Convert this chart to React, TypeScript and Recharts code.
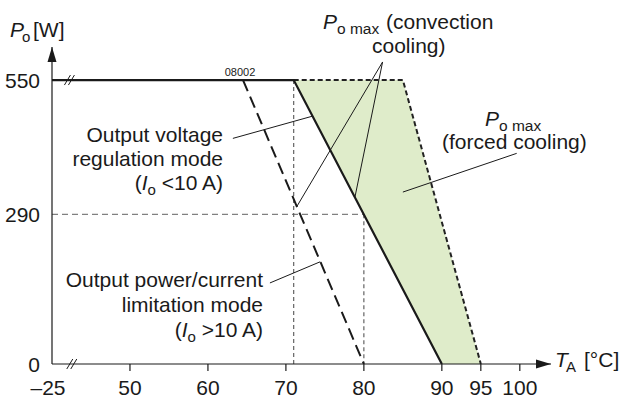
import React from 'react';
import {
  ComposedChart,
  Line,
  Area,
  XAxis,
  YAxis,
  ReferenceLine,
  ReferenceDot,
  Customized,
} from 'recharts';

// ---- data ----
const xTicks = [40, 50, 60, 70, 80, 90, 95, 100];
const xTickLabels: Record<number, string> = {
  40: '–25', 50: '50', 60: '60', 70: '70', 80: '80', 90: '90', 95: '95', 100: '100',
};
const yTicks = [0, 290, 550];

const convection = [
  { x: 40, y: 550 },
  { x: 71, y: 550 },
  { x: 90, y: 0 },
];
const limitation = [
  { x: 64.5, y: 550 },
  { x: 80, y: 0 },
];
const forced = [
  { x: 71, y: 550 },
  { x: 85, y: 550 },
  { x: 95, y: 0 },
];
const bandX = [71, 85, 90, 95];

const guideH = [{ x: 40, y: 290 }, { x: 80, y: 290 }];
const guideV71 = [{ x: 71, y: 550 }, { x: 71, y: 0 }];
const guideV80 = [{ x: 80, y: 290 }, { x: 80, y: 0 }];

const leaders = [
  [{ x: 63.2, y: 437 }, { x: 73.4, y: 480 }],
  [{ x: 82.4, y: 585 }, { x: 71.4, y: 305 }],
  [{ x: 82.4, y: 585 }, { x: 78.85, y: 323 }],
  [{ x: 99.6, y: 408 }, { x: 85.0, y: 333 }],
  [{ x: 67.95, y: 157 }, { x: 74.4, y: 198 }],
];

function interp(series: { x: number; y: number }[], x: number): number {
  if (x <= series[0].x) return series[0].y;
  for (let i = 1; i < series.length; i++) {
    const a = series[i - 1], b = series[i];
    if (x <= b.x) return a.y + ((b.y - a.y) * (x - a.x)) / (b.x - a.x);
  }
  return series[series.length - 1].y;
}
const band = bandX.map((x) => ({ x, range: [interp(convection, x), interp(forced, x)] }));

const FONT = '"Liberation Sans", Arial, Helvetica, sans-serif';
const INK = '#1a1a1a';

const XTick = (props: any) => {
  const { x, y, payload } = props;
  const v = payload.value as number;
  return (
    <g>
      {v !== 40 && <line x1={x} y1={y} x2={x} y2={y + 7} stroke={INK} strokeWidth={1.2} />}
      <text x={x + (v === 40 ? -4 : 0)} y={y + 31} textAnchor="middle" fontSize={21} fill={INK} fontFamily={FONT}>
        {xTickLabels[v]}
      </text>
    </g>
  );
};

const YTick = (props: any) => {
  const { x, y, payload } = props;
  return (
    <text x={x - 12} y={y + 7.5} textAnchor="end" fontSize={21} fill={INK} fontFamily={FONT}>
      {payload.value}
    </text>
  );
};

const BreakMark = (props: any) => {
  const { cx, cy } = props;
  return (
    <g stroke={INK} strokeWidth={1}>
      <line x1={cx - 5.5} y1={cy + 5} x2={cx + 0.5} y2={cy - 5} />
      <line x1={cx - 1.5} y1={cy + 5} x2={cx + 4.5} y2={cy - 5} />
    </g>
  );
};

const ArrowUp = (props: any) => {
  const { cx, cy } = props;
  return <polygon points={`${cx},${cy} ${cx - 4.5},${cy + 15} ${cx + 4.5},${cy + 15}`} fill={INK} />;
};
const ArrowRight = (props: any) => {
  const { cx, cy } = props;
  return <polygon points={`${cx},${cy} ${cx - 15},${cy - 4.5} ${cx - 15},${cy + 4.5}`} fill={INK} />;
};

const Annotations = () => (
  <g fontFamily={FONT} fill={INK}>
    <text x={10} y={37} fontSize={21}>
      <tspan fontStyle="italic">P</tspan>
      <tspan x={22} dy={5} fontSize={15}>o</tspan>
      <tspan x={33} dy={-5}>[W]</tspan>
    </text>
    <text x={555} y={367} fontSize={21}>
      <tspan fontStyle="italic">T</tspan>
      <tspan x={566} dy={5} fontSize={15}>A</tspan>
      <tspan x={584} dy={-5}>[°C]</tspan>
    </text>
    <text x={240} y={76} fontSize={11} textAnchor="middle">08002</text>

    <text x={323} y={28.5} fontSize={21}>
      <tspan fontStyle="italic">P</tspan>
      <tspan x={337} dy={5} fontSize={15.5}>o max</tspan>
      <tspan x={386} dy={-5}>(convection</tspan>
    </text>
    <text x={372} y={53} fontSize={21}>cooling)</text>

    <text x={485} y={126} fontSize={21}>
      <tspan fontStyle="italic">P</tspan>
      <tspan x={499} dy={4.5} fontSize={15.5}>o max</tspan>
    </text>
    <text x={442} y={149} fontSize={21}>(forced cooling)</text>

    <g textAnchor="end" fontSize={21}>
      <text x={223} y={142}>Output voltage</text>
      <text x={223} y={166}>regulation mode</text>
      <text x={223} y={190}>
        (<tspan fontStyle="italic">I</tspan>
        <tspan dy={5} fontSize={15}>o</tspan>
        <tspan dy={-5}> &lt;10 A)</tspan>
      </text>
      <text x={263} y={287}>Output power/current</text>
      <text x={263} y={312}>limitation mode</text>
      <text x={263} y={337}>
        (<tspan fontStyle="italic">I</tspan>
        <tspan dy={5} fontSize={15}>o</tspan>
        <tspan dy={-5}> &gt;10 A)</tspan>
      </text>
    </g>
  </g>
);

export default function App() {
  return (
    <div style={{ position: 'absolute', left: 0, top: 0, background: '#fff' }}>
      <ComposedChart
        width={619}
        height={397}
        margin={{ top: 47, right: 68, bottom: 3, left: 0 }}
      >
        <XAxis
          dataKey="x"
          type="number"
          domain={[40, 104]}
          ticks={xTicks}
          interval={0}
          allowDataOverflow
          tickLine={false}
          tickSize={0}
          tickMargin={0}
          height={30}
          axisLine={{ stroke: INK, strokeWidth: 1.2 }}
          tick={<XTick />}
        />
        <YAxis
          type="number"
          domain={[0, 614]}
          ticks={yTicks}
          interval={0}
          allowDataOverflow
          width={52}
          tickLine={false}
          tickSize={0}
          tickMargin={0}
          axisLine={{ stroke: INK, strokeWidth: 1.2 }}
          tick={<YTick />}
        />
        <Area
          data={band}
          dataKey="range"
          type="linear"
          fill="#dfecca"
          fillOpacity={1}
          stroke="none"
          isAnimationActive={false}
        />
        <ReferenceLine segment={guideH} stroke="#808080" strokeWidth={1.3} strokeDasharray="6 4" ifOverflow="visible" />
        <ReferenceLine segment={guideV71} stroke="#555" strokeWidth={1.1} strokeDasharray="4 3" ifOverflow="visible" />
        <ReferenceLine segment={guideV80} stroke="#555" strokeWidth={1.1} strokeDasharray="4 3" ifOverflow="visible" />
        {leaders.map((seg, i) => (
          <ReferenceLine key={i} segment={seg} stroke={INK} strokeWidth={1} ifOverflow="visible" />
        ))}
        <Line
          data={forced}
          dataKey="y"
          type="linear"
          stroke="#222"
          strokeWidth={2}
          strokeDasharray="5 3"
          dot={false}
          isAnimationActive={false}
        />
        <Line
          data={limitation}
          dataKey="y"
          type="linear"
          stroke={INK}
          strokeWidth={2}
          strokeDasharray="12 6"
          dot={false}
          isAnimationActive={false}
        />
        <Line
          data={convection}
          dataKey="y"
          type="linear"
          stroke={INK}
          strokeWidth={2.2}
          dot={false}
          isAnimationActive={false}
        />
        <ReferenceDot x={42.3} y={550} r={0} shape={<BreakMark />} ifOverflow="visible" />
        <ReferenceDot x={42.6} y={0} r={0} shape={<BreakMark />} ifOverflow="visible" />
        <ReferenceDot x={40} y={614} r={0} shape={<ArrowUp />} ifOverflow="visible" />
        <ReferenceDot x={104} y={0} r={0} shape={<ArrowRight />} ifOverflow="visible" />
        <Customized component={<Annotations />} />
      </ComposedChart>
    </div>
  );
}
